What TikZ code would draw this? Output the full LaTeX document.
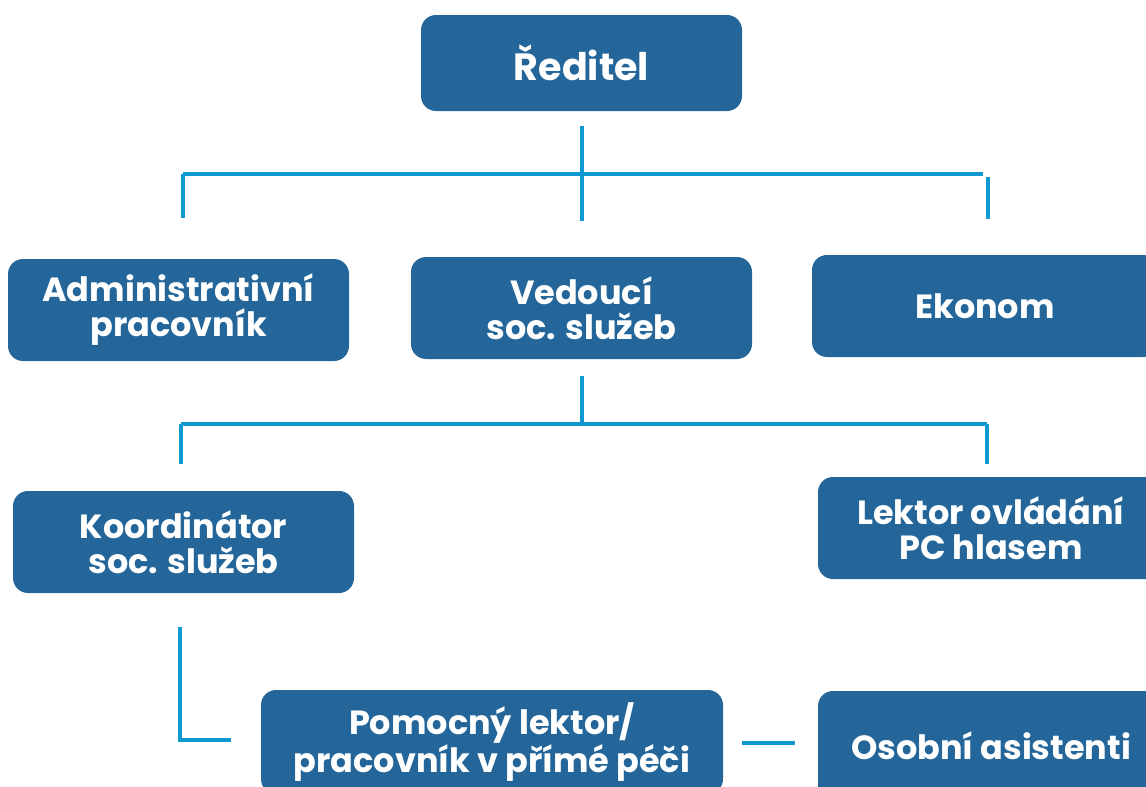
\documentclass[tikz,border=0pt]{standalone}
\usepackage{fontspec}
\setmainfont{Poppins}
\usetikzlibrary{calc}
\definecolor{boxblue}{RGB}{36,102,153}
\definecolor{lineblue}{RGB}{16,152,210}
\tikzset{
  orgbox/.style={rectangle, rounded corners=15pt, fill=boxblue, draw=none,
    text=white, align=center, inner sep=0pt,
    font=\fontsize{33.5}{35}\selectfont\bfseries},
  link/.style={draw=lineblue, line width=3.6pt}
}
\begin{document}
\begin{tikzpicture}[x=1pt,y=-1pt]
\useasboundingbox (0,0) rectangle (1146,787);
\clip (0,0) rectangle (1146,787);
\fill[white] (0,0) rectangle (1146,787);
% boxes
\node[orgbox, minimum width=321pt, minimum height=96pt, font=\fontsize{38}{40}\selectfont\bfseries] (dir) at (581.5,63) {Ředitel};
\node[orgbox, minimum width=341pt, minimum height=102pt] (adm) at (178.5,310) {Administrativní\\pracovník};
\node[orgbox, minimum width=341pt, minimum height=102pt] (ved) at (581.5,308) {Vedoucí\\soc. služeb};
\node[orgbox, minimum width=346pt, minimum height=102pt] (eko) at (985,306) {Ekonom};
\node[orgbox, minimum width=341pt, minimum height=102pt] (koo) at (183.5,542) {Koordinátor\\soc. služeb};
\node[orgbox, minimum width=346pt, minimum height=102pt] (lek) at (991,528) {Lektor ovládání\\PC hlasem};
\node[orgbox, minimum width=462pt, minimum height=104pt] (pom) at (492,742) {Pomocný lektor/\\pracovník v přímé péči};
\node[orgbox, minimum width=346pt, minimum height=110pt] (oso) at (991,746) {Osobní asistenti};
% connector points
\coordinate (d1) at (582,126);
\coordinate (d2) at (582,221);
\coordinate (h1l) at (183,174);
\coordinate (h1r) at (983,174);
\coordinate (a1) at (183,218);
\coordinate (e0) at (988,177);
\coordinate (e1) at (988,219);
\coordinate (v1) at (582,376);
\coordinate (v2) at (582,424);
\coordinate (h2l) at (181,424);
\coordinate (h2r) at (987,424);
\coordinate (k1) at (181,464);
\coordinate (l1) at (987,464);
\coordinate (c1) at (180,627);
\coordinate (c2) at (180,740);
\coordinate (c3) at (231,740);
\coordinate (p1) at (742,743);
\coordinate (p2) at (795,743);
% connectors
\draw[link] (d1) -- (d2);
\draw[link] (h1l) -- (h1r);
\draw[link] (h1l) -- (a1);
\draw[link] (e0) -- (e1);
\draw[link] (v1) -- (v2);
\draw[link] (h2l) -- (h2r);
\draw[link] (h2l) -- (k1);
\draw[link] (h2r) -- (l1);
\draw[link] (c1) -- (c2) -- (c3);
\draw[link] (p1) -- (p2);
\end{tikzpicture}
\end{document}
